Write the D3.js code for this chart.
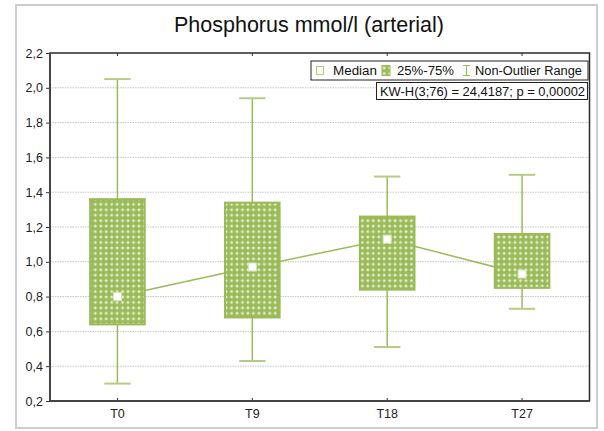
<!DOCTYPE html>
<html>
<head>
<meta charset="utf-8">
<script src="https://cdn.jsdelivr.net/npm/d3@7/dist/d3.min.js"></script>
<style>
  html, body { margin: 0; padding: 0; background: #fff; }
  svg { display: block; font-family: "Liberation Sans", Arial, sans-serif; }
</style>
</head>
<body>
<div id="chart"></div>
<script>
// ---- data ----
const categories = ["T0", "T9", "T18", "T27"];
const whiskerLow  = [0.30, 0.43, 0.51, 0.73];
const whiskerHigh = [2.05, 1.94, 1.49, 1.50];
const q1          = [0.64, 0.68, 0.84, 0.85];
const q3          = [1.36, 1.34, 1.26, 1.16];
const medians     = [0.80, 0.97, 1.13, 0.93];
const yTicks = [0.2, 0.4, 0.6, 0.8, 1.0, 1.2, 1.4, 1.6, 1.8, 2.0, 2.2];
const title = "Phosphorus mmol/l (arterial)";
const legendLabels = ["Median", "25%-75%", "Non-Outlier Range"];
const statsText = "KW-H(3;76) = 24,4187; p = 0,00002";

// ---- layout ----
const W = 604, H = 431;
const plot = { left: 50, right: 589.5, top: 53, bottom: 401 };
const green = "#9bbb59", lightGreen = "#b4cc84";

const svg = d3.select("#chart").append("svg").attr("width", W).attr("height", H);
svg.append("rect").attr("width", W).attr("height", H).attr("fill", "#fff");

// pattern for boxes
const defs = svg.append("defs");
const pat = defs.append("pattern").attr("id", "dots").attr("patternUnits", "userSpaceOnUse")
  .attr("width", 5.45).attr("height", 5.45);
pat.append("rect").attr("width", 5.45).attr("height", 5.45).attr("fill", green);
pat.append("rect").attr("x", 1.2).attr("y", 2.2).attr("width", 3).attr("height", 1).attr("fill", "#fff").attr("opacity", 0.9);
pat.append("rect").attr("x", 2.2).attr("y", 1.2).attr("width", 1).attr("height", 3).attr("fill", "#fff").attr("opacity", 0.9);

// outer frame
svg.append("rect").attr("x", 16).attr("y", 5).attr("width", 581).attr("height", 423)
  .attr("fill", "none").attr("stroke", "#cdcdcd").attr("stroke-width", 2);

// title
svg.append("text").attr("x", 309).attr("y", 32).attr("text-anchor", "middle")
  .attr("font-size", 21.5).attr("fill", "#111").text(title);

const x = d3.scaleBand().domain(categories).range([plot.left, plot.right]).padding(0);
const y = d3.scaleLinear().domain([0.2, 2.2]).range([plot.bottom, plot.top]);
const fmt = d => d3.format(".1f")(d).replace(".", ",");
const cx = c => x(c) + x.bandwidth() / 2;
const boxW = x.bandwidth() * 0.405;
const capW = x.bandwidth() * 0.195;

// gridlines
svg.append("g").selectAll("line").data(yTicks.filter(t => t > 0.2 && t < 2.2)).join("line")
  .attr("x1", plot.left).attr("x2", plot.right)
  .attr("y1", d => y(d)).attr("y2", d => y(d))
  .attr("stroke", "#c4c4c4").attr("stroke-width", 1).attr("stroke-dasharray", "1.5,1");

// connecting median line
const data = categories.map((c, i) => ({ c, lo: whiskerLow[i], hi: whiskerHigh[i], q1: q1[i], q3: q3[i], m: medians[i] }));
svg.append("path").datum(data)
  .attr("d", d3.line().x(d => cx(d.c)).y(d => y(d.m)))
  .attr("fill", "none").attr("stroke", green).attr("stroke-width", 1.5);

// whiskers
const g = svg.append("g");
g.selectAll(".wv").data(data).join("line")
  .attr("x1", d => cx(d.c)).attr("x2", d => cx(d.c))
  .attr("y1", d => y(d.lo)).attr("y2", d => y(d.hi))
  .attr("stroke", green).attr("stroke-width", 1.5);
g.selectAll(".capH").data(data).join("line")
  .attr("x1", d => cx(d.c) - capW / 2).attr("x2", d => cx(d.c) + capW / 2)
  .attr("y1", d => y(d.hi)).attr("y2", d => y(d.hi))
  .attr("stroke", lightGreen).attr("stroke-width", 2);
g.selectAll(".capL").data(data).join("line")
  .attr("x1", d => cx(d.c) - capW / 2).attr("x2", d => cx(d.c) + capW / 2)
  .attr("y1", d => y(d.lo)).attr("y2", d => y(d.lo))
  .attr("stroke", lightGreen).attr("stroke-width", 2);

// boxes
g.selectAll(".box").data(data).join("rect")
  .attr("x", d => cx(d.c) - boxW / 2).attr("width", boxW)
  .attr("y", d => y(d.q3)).attr("height", d => y(d.q1) - y(d.q3))
  .attr("fill", "url(#dots)").attr("stroke", green).attr("stroke-width", 2);

// medians
g.selectAll(".med").data(data).join("rect")
  .attr("x", d => cx(d.c) - 4).attr("y", d => y(d.m) - 4)
  .attr("width", 8).attr("height", 8)
  .attr("fill", "#fff").attr("stroke", "#d6e4bd").attr("stroke-width", 1);

// axes
const yAxis = d3.axisLeft(y).tickValues(yTicks).tickFormat(fmt).tickSizeInner(4).tickSizeOuter(0).tickPadding(3);
const ya = svg.append("g").attr("transform", `translate(${plot.left},0)`).call(yAxis);
ya.select(".domain").remove();
ya.selectAll(".tick line").attr("stroke", "#333");
ya.selectAll(".tick text").attr("font-size", 12.5).attr("fill", "#222").attr("font-family", "Liberation Sans, Arial, sans-serif");

const xAxis = d3.axisBottom(x).tickSizeInner(-3).tickSizeOuter(0).tickPadding(8);
const xa = svg.append("g").attr("transform", `translate(0,${plot.bottom})`).call(xAxis);
xa.select(".domain").remove();
xa.selectAll(".tick line").attr("stroke", "#333");
xa.selectAll(".tick text").attr("font-size", 12.5).attr("fill", "#222").attr("font-family", "Liberation Sans, Arial, sans-serif");

const xTop = d3.axisTop(x).tickSizeInner(-3).tickSizeOuter(0).tickFormat("");
const xt = svg.append("g").attr("transform", `translate(0,${plot.top})`).call(xTop);
xt.select(".domain").remove();
xt.selectAll(".tick line").attr("stroke", "#333");

// frame
svg.append("rect").attr("x", plot.left).attr("y", plot.top)
  .attr("width", plot.right - plot.left).attr("height", plot.bottom - plot.top)
  .attr("fill", "none").attr("stroke", "#2a2a2a").attr("stroke-width", 1.5);
svg.append("path")
  .attr("d", `M${plot.left},${plot.top}V${plot.bottom}H${plot.right}`)
  .attr("fill", "none").attr("stroke", "#444").attr("stroke-width", 2);

// legend
const lg = svg.append("g");
lg.append("rect").attr("x", 311).attr("y", 61).attr("width", 277).attr("height", 19)
  .attr("fill", "#fff").attr("stroke", "#222").attr("stroke-width", 1);
lg.append("rect").attr("x", 316.5).attr("y", 66.5).attr("width", 7).attr("height", 8)
  .attr("fill", "#fff").attr("stroke", lightGreen).attr("stroke-width", 1.2);
lg.append("text").attr("x", 333).attr("y", 75).attr("font-size", 12.5).attr("fill", "#111")
  .attr("textLength", 44).attr("lengthAdjust", "spacingAndGlyphs").text(legendLabels[0]);
lg.append("rect").attr("x", 382).attr("y", 65.5).attr("width", 8).attr("height", 10)
  .attr("fill", "url(#dots)").attr("stroke", green).attr("stroke-width", 1);
lg.append("text").attr("x", 397).attr("y", 75).attr("font-size", 12.5).attr("fill", "#111")
  .attr("textLength", 57).attr("lengthAdjust", "spacingAndGlyphs").text(legendLabels[1]);
lg.append("path").attr("d", "M463,65.5H470M466.5,65.5V75.5M463,75.5H470")
  .attr("fill", "none").attr("stroke", green).attr("stroke-width", 1.2);
lg.append("text").attr("x", 475).attr("y", 75).attr("font-size", 12.5).attr("fill", "#111")
  .attr("textLength", 107).attr("lengthAdjust", "spacingAndGlyphs").text(legendLabels[2]);

lg.append("rect").attr("x", 376.5).attr("y", 82.5).attr("width", 211).attr("height", 17)
  .attr("fill", "#fff").attr("stroke", "#222").attr("stroke-width", 1);
lg.append("text").attr("x", 380).attr("y", 95.5).attr("font-size", 12.5).attr("fill", "#111")
  .attr("textLength", 205).attr("lengthAdjust", "spacingAndGlyphs").text(statsText);
</script>
</body>
</html>
